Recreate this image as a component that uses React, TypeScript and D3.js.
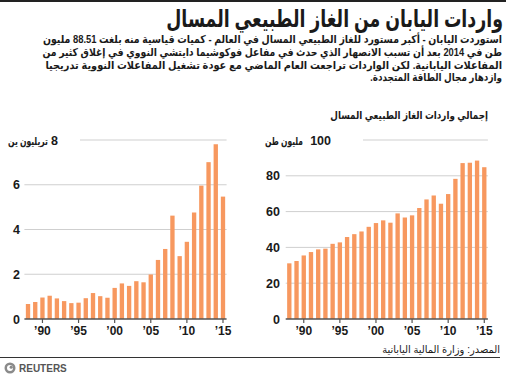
import React, { useLayoutEffect, useRef, useState } from "react";
import * as d3 from "d3";

const years = d3.range(1988, 2016);
const valueYen = [0.67, 0.76, 0.96, 1.04, 0.92, 0.8, 0.71, 0.73, 0.93, 1.16, 1.02, 0.95, 1.39, 1.59, 1.48, 1.69, 1.64, 1.99, 2.64, 3.13, 4.62, 2.81, 3.45, 4.76, 5.96, 7.01, 7.81, 5.47];
const volumeTonnes = [31.1, 32.4, 35.5, 37.4, 38.9, 39.3, 42.0, 42.8, 45.8, 47.4, 48.9, 51.5, 53.6, 55.1, 53.8, 59.0, 56.7, 57.9, 62.0, 66.8, 69.0, 64.4, 69.8, 78.3, 87.1, 87.3, 88.5, 84.8];
const leftTicks = [0, 2, 4, 6];
const rightTicks = [0, 20, 40, 60, 80];
const xTickYears = [1990, 1995, 2000, 2005, 2010, 2015];

const title = "واردات اليابان من الغاز الطبيعي المسال";
const subtitleLines = [
  "استوردت اليابان - أكبر مستورد للغاز الطبيعي المسال في العالم - كميات قياسية منه بلغت 88.51 مليون",
  "طن في 2014 بعد أن تسبب الانصهار الذي حدث في مفاعل فوكوشيما دايتشي النووي في إغلاق كثير من",
  "المفاعلات اليابانية. لكن الواردات تراجعت العام الماضي مع عودة تشغيل المفاعلات النووية تدريجيا",
  "وازدهار مجال الطاقة المتجددة.",
];
const subtitleWidths = [460, 460, 457, 132];
const chartLabel = "إجمالي واردات الغاز الطبيعي المسال";
const leftUnit = "تريليون ين";
const rightUnit = "مليون طن";
const source = "المصدر: وزارة المالية اليابانية";

const FONT = "'Liberation Sans', 'DejaVu Sans', Arial, sans-serif";
const BAR = "#f7985f";
const GRID = "#cfcfcf";
const AXIS = "#555";
const TEXT = "#1a1a1a";

type FitProps = {
  x: number;
  y: number;
  width: number;
  fontSize: number;
  bold?: boolean;
  children: string;
};

function FitText({ x, y, width, fontSize, bold, children }: FitProps) {
  const ref = useRef<SVGTextElement>(null);
  const [s, setS] = useState(1);
  useLayoutEffect(() => {
    if (ref.current) {
      const w = ref.current.getBBox().width;
      if (w > 0) setS(width / w);
    }
  }, [width, children, fontSize]);
  return (
    <g transform={`translate(${x},${y})`}>
      <g transform={`scale(${s},1)`}>
        <text ref={ref} x={0} y={0} direction="rtl" textAnchor="start" fontSize={fontSize} fontWeight={bold ? "bold" : "normal"} fill={TEXT} fontFamily={FONT}>
          {children}
        </text>
      </g>
    </g>
  );
}

type PanelProps = {
  values: number[];
  max: number;
  ticks: number[];
  unit: string;
  x0: number;
  x1: number;
  labelRight: number;
  unitRight: number;
  unitTextRight: number;
  unitWidth: number;
  topGridStart: number;
};

function Panel({ values, max, ticks, unit, x0, x1, labelRight, unitRight, unitTextRight, unitWidth, topGridStart }: PanelProps) {
  const x = d3.scaleBand<number>().domain(years).range([x0, x1]).paddingInner(0.4).paddingOuter(0.2);
  const y = d3.scaleLinear().domain([0, max]).range([319, 140]);
  return (
    <g>
      {ticks.filter((t) => t > 0).map((t) => (
        <line key={"g" + t} x1={x0} x2={x1} y1={y(t)} y2={y(t)} stroke={GRID} strokeWidth={1} />
      ))}
      <line x1={topGridStart} x2={x1} y1={y(max)} y2={y(max)} stroke={GRID} strokeWidth={1} />
      {values.map((v, i) => (
        <rect key={years[i]} x={x(years[i])} y={y(v)} width={x.bandwidth()} height={y(0) - y(v)} fill={BAR} />
      ))}
      <line x1={x0} x2={x1} y1={y(0)} y2={y(0)} stroke={AXIS} strokeWidth={1.5} />
      {xTickYears.map((yr) => {
        const cx = (x(yr) as number) + x.bandwidth() / 2;
        return (
          <g key={yr}>
            <line x1={cx} x2={cx} y1={y(0)} y2={y(0) + 4} stroke={AXIS} strokeWidth={1.2} />
            <text x={cx} y={335} textAnchor="middle" fontSize={12} fontWeight="bold" fill={TEXT} fontFamily={FONT}>
              {"\u2019" + String(yr).slice(2)}
            </text>
          </g>
        );
      })}
      {ticks.map((t) => (
        <text key={"l" + t} x={labelRight} y={y(t) + 4.5} textAnchor="end" fontSize={12.5} fontWeight="bold" fill={TEXT} fontFamily={FONT}>
          {t}
        </text>
      ))}
      <text x={unitRight} y={y(max) + 4.5} textAnchor="end" fontSize={12.5} fontWeight="bold" fill={TEXT} fontFamily={FONT}>
        {max}
      </text>
      <FitText x={unitTextRight} y={y(max) + 4.5} width={unitWidth} fontSize={11} bold>
        {unit}
      </FitText>
    </g>
  );
}

export default function App() {
  return (
    <svg width={506} height={378} style={{ position: "absolute", left: 0, top: 0, background: "#fff" }}>
      <rect x={0} y={0} width={506} height={378} fill="#fff" />
      <rect x={0} y={0} width={506} height={2} fill="#222" />
      <FitText x={503} y={27} width={337} fontSize={24} bold>
        {title}
      </FitText>
      {subtitleLines.map((line, i) => (
        <FitText key={i} x={502} y={43 + i * 12.8} width={subtitleWidths[i]} fontSize={11} bold>
          {line}
        </FitText>
      ))}
      <FitText x={488} y={119} width={158} fontSize={11} bold>
        {chartLabel}
      </FitText>
      <Panel values={valueYen} max={8} ticks={leftTicks} unit={leftUnit} x0={24.4} x1={226.6} labelRight={20} unitRight={58} unitTextRight={48} unitWidth={40} topGridStart={80} />
      <Panel values={volumeTonnes} max={100} ticks={rightTicks} unit={rightUnit} x0={285.7} x1={487.9} labelRight={280} unitRight={331} unitTextRight={303} unitWidth={38} topGridStart={363} />
      <FitText x={500} y={353} width={118} fontSize={10.5}>
        {source}
      </FitText>
      <line x1={0} x2={500} y1={357.5} y2={357.5} stroke="#333" strokeWidth={1} />
      <g transform="translate(10,368)">
        <circle r={5.5} fill="#8a8a8a" />
        <circle r={3} fill="#fff" />
        <circle cx={1.2} cy={-0.8} r={1.6} fill="#8a8a8a" />
      </g>
      <text x={19} y={372} fontSize={10} fontWeight="bold" fill="#555" fontFamily={FONT}>
        REUTERS
      </text>
    </svg>
  );
}
